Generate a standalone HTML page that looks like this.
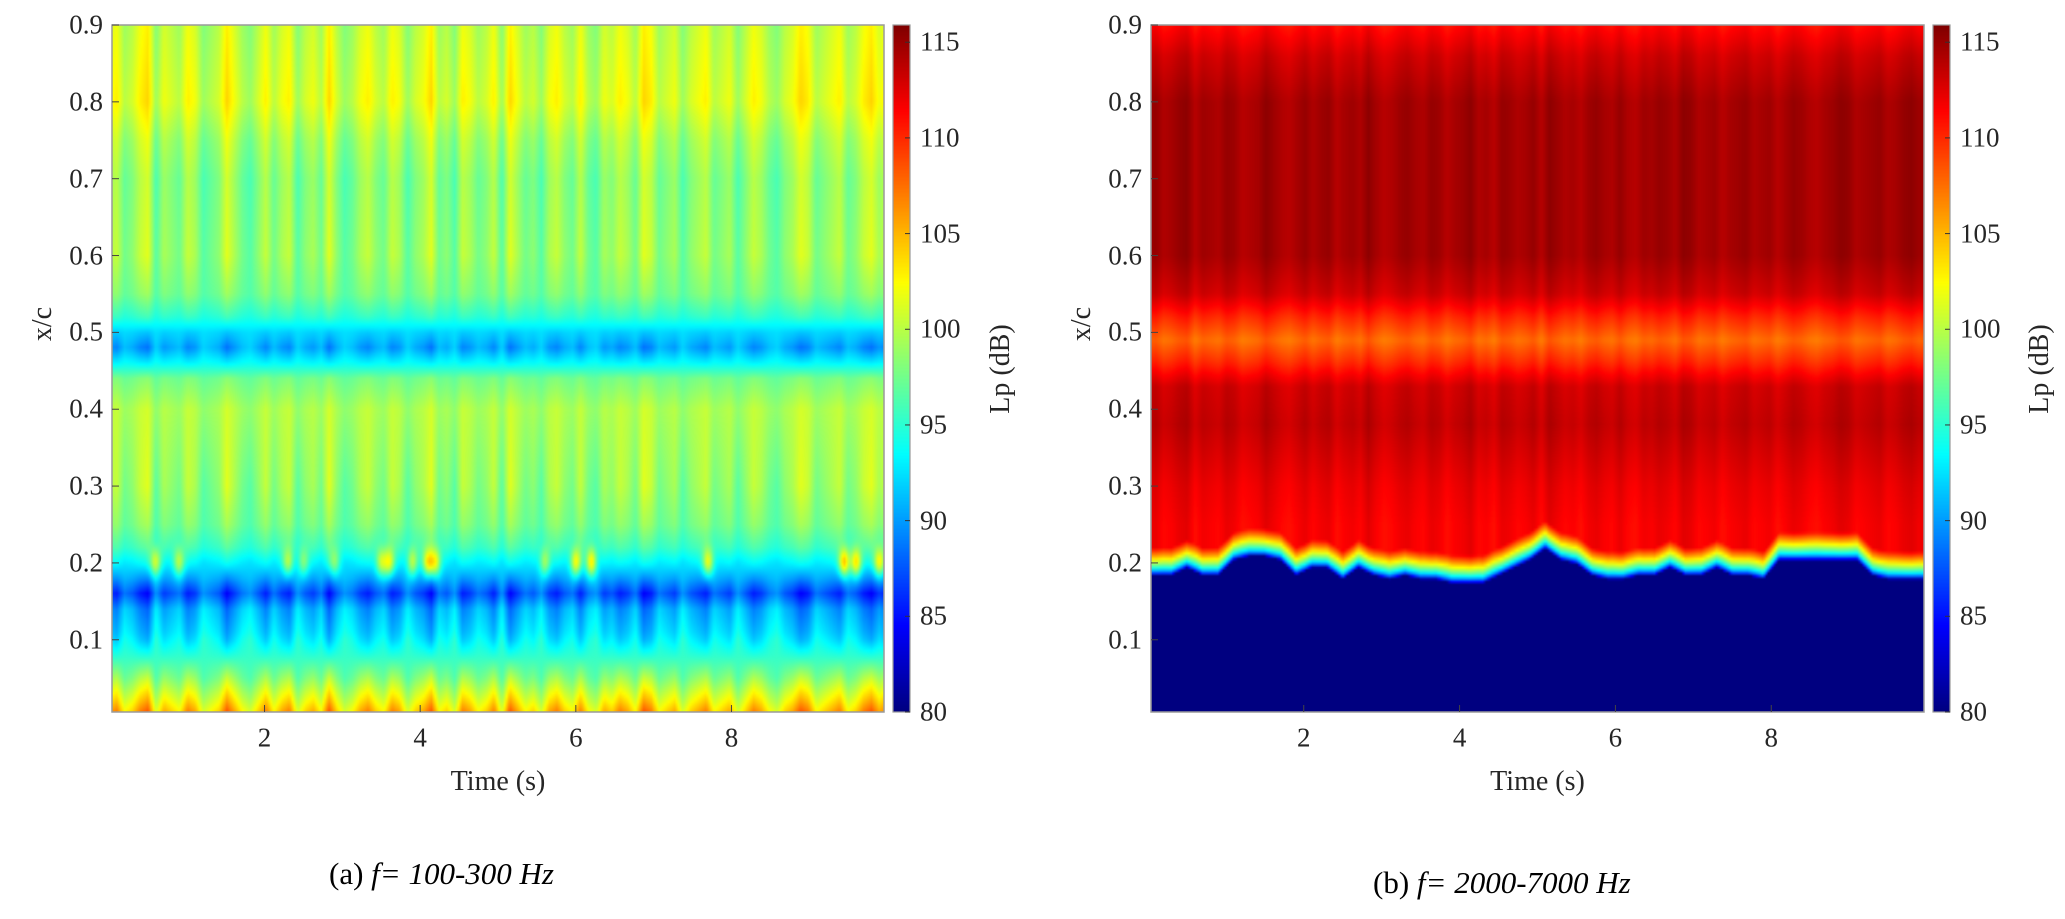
<!DOCTYPE html>
<html><head><meta charset="utf-8">
<style>
html,body{margin:0;padding:0;background:#fff;}
#root{position:relative;width:2065px;height:919px;overflow:hidden;font-family:"Liberation Serif",serif;color:#262626;}
canvas{position:absolute;}
.t{position:absolute;font-size:27px;line-height:1;white-space:nowrap;}
</style></head>
<body>
<div id="root">
<svg id="svg" width="2065" height="919" style="position:absolute;left:0;top:0"></svg>
</div>
<script>
// ---------- data ----------
// Panel (a): mean level profile along x/c
const aProfilePos = [0, 0.02, 0.05, 0.08, 0.11, 0.14, 0.16, 0.18, 0.2, 0.22, 0.25, 0.3, 0.35, 0.4, 0.44, 0.46, 0.48, 0.5, 0.52, 0.55, 0.6, 0.7, 0.75, 0.8, 0.85, 0.9];
const aProfileVal = [105, 102, 98, 95, 92.5, 91, 87.5, 90.5, 93, 95.5, 97.5, 98.5, 99, 99.5, 97.5, 93.5, 90.5, 92, 95, 97.5, 98.5, 98, 99, 101, 100.5, 100];
// Panel (a): how strongly each x/c responds to column fluctuation
const aGainPos = [0, 0.05, 0.1, 0.16, 0.2, 0.3, 0.44, 0.48, 0.52, 0.6, 0.9];
const aGainVal = [1.6, 0.9, -0.9, -1.1, 0.3, 1, 0.3, -0.7, 0.3, 1, 1];
// Panel (a): column fluctuation (dB) across time 0..10 s
const aFluct = [1,2,-1,0,2,3,-2,1,0,-1,2,1,-2,-1,0,3,1,-1,-2,0,2,-1,1,2,-2,0,1,-1,3,0,-2,-1,1,2,0,-1,2,1,-2,0,1,3,-1,0,-2,2,1,-1,0,2,-2,3,1,-1,0,-2,1,2,0,-1,2,-1,-2,1,0,2,1,-1,3,2,-1,0,1,-2,0,1,2,-1,0,1,-2,0,2,1,-1,-2,0,1,3,2,-1,0,1,2,-1,0,2,3,1,2];
// Panel (a): hot spots near x/c=0.2 (time s, extra dB)
const aHotTimes = [0.6, 0.9, 2.3, 2.5, 2.9, 3.5, 3.6, 3.9, 4.1, 4.2, 5.6, 6.0, 6.2, 7.7, 9.45, 9.6, 9.9];
const aHotAmp   = [8, 7, 6, 5, 5, 7, 8, 7, 9, 8, 6, 9, 10, 8, 11, 10, 9];
// Panel (b): level profile above the transition
const bProfilePos = [0, 0.25, 0.3, 0.38, 0.43, 0.46, 0.49, 0.52, 0.55, 0.6, 0.8, 0.86, 0.9];
const bProfileVal = [111.5, 111.5, 112, 113.5, 113, 110, 107.5, 110, 113, 114.5, 114.5, 113, 111];
// Panel (b): transition x/c vs time
const bBoundTimes = [0,0.3,0.5,0.7,0.9,1.1,1.3,1.5,1.7,1.9,2.1,2.3,2.5,2.7,2.9,3.1,3.3,3.5,3.7,3.9,4.1,4.3,4.5,4.7,4.9,5.1,5.3,5.5,5.7,5.9,6.1,6.3,6.5,6.7,6.9,7.1,7.3,7.5,7.7,7.9,8.1,8.3,8.5,8.7,8.9,9.1,9.3,9.5,9.7,10];
const bBoundVal = [0.19,0.19,0.2,0.19,0.19,0.21,0.215,0.215,0.21,0.19,0.2,0.2,0.185,0.2,0.19,0.185,0.19,0.185,0.185,0.18,0.18,0.18,0.19,0.2,0.21,0.225,0.21,0.205,0.19,0.185,0.185,0.19,0.19,0.2,0.19,0.19,0.2,0.19,0.19,0.185,0.21,0.21,0.21,0.21,0.21,0.21,0.19,0.185,0.185,0.185];
// ticks
const yTicks = [0.1,0.2,0.3,0.4,0.5,0.6,0.7,0.8,0.9];
const xTicks = [2,4,6,8];
const cTicks = [80,85,90,95,100,105,110,115];

// ---------- layout ----------
const XMIN=0.04, XMAX=9.96, YMIN=0.006, YMAX=0.9, CMIN=80, CMAX=115.9;
const panels=[
 {id:'a', L:112,R:884,T:25,B:712, cbL:893,cbR:910, cap:'(a) ', capI:'f= 100-300 Hz', capX:329, capY:883, ylX:43, lpX:1001},
 {id:'b', L:1151,R:1924,T:25,B:712, cbL:1933,cbR:1950, cap:'(b) ', capI:'f= 2000-7000 Hz', capX:1373, capY:892, ylX:1082, lpX:2040}
];
function jet(v){
  let t=(v-CMIN)/(CMAX-CMIN); t=Math.max(0,Math.min(1,t));
  const f=x=>Math.max(0,Math.min(1,x));
  return [f(1.5-Math.abs(4*t-3))*255, f(1.5-Math.abs(4*t-2))*255, f(1.5-Math.abs(4*t-1))*255];
}
function interp(xs,ys,x){
  if(x<=xs[0])return ys[0]; if(x>=xs[xs.length-1])return ys[ys.length-1];
  for(let i=1;i<xs.length;i++){ if(x<=xs[i]){const u=(x-xs[i-1])/(xs[i]-xs[i-1]);return ys[i-1]+u*(ys[i]-ys[i-1]);} }
}
function fluctAt(t){ const n=aFluct.length; const p=t/10*(n-1); const i=Math.floor(p); const u=p-i; return aFluct[Math.min(i,n-1)]*(1-u)+aFluct[Math.min(i+1,n-1)]*u; }
function valA(t,y){
  let v=interp(aProfilePos,aProfileVal,y);
  v+=fluctAt(t)*interp(aGainPos,aGainVal,y);
  for(let k=0;k<aHotTimes.length;k++){ const dt=(t-aHotTimes[k])/0.07, dy=(y-0.2)/0.018; v+=aHotAmp[k]*Math.exp(-dt*dt-dy*dy); }
  return v;
}
function valB(t,y){
  const b=interp(bBoundTimes,bBoundVal,t);
  const top=interp(bProfilePos,bProfileVal,y)+fluctAt(t)*0.3;
  const d=y-b;
  if(d< -0.006) return 80;
  if(d<0.03){ const u=(d+0.006)/0.036; return 80+(top-80)*Math.pow(u,0.6); }
  return top;
}
const NS='http://www.w3.org/2000/svg';
const svg=document.getElementById('svg');
const root=document.getElementById('root');
function line(x1,y1,x2,y2,c,w,name){const l=document.createElementNS(NS,'line');l.setAttribute('x1',x1);l.setAttribute('y1',y1);l.setAttribute('x2',x2);l.setAttribute('y2',y2);l.setAttribute('stroke',c);l.setAttribute('stroke-width',w);


svg.appendChild(l);}
function text(x,y,s,anchor,name,extra){const d=document.createElement('div');d.className='t';d.textContent=s;d.style.left=x+'px';d.style.top=y+'px';
d.style.transform=anchor;


if(extra)Object.assign(d.style,extra);root.appendChild(d);return d;}

panels.forEach(p=>{
  const W=p.R-p.L, H=p.B-p.T;
  const sx=t=>p.L+(t-XMIN)/(XMAX-XMIN)*W;
  const sy=v=>p.B-(v-YMIN)/(YMAX-YMIN)*H;
  const sc=v=>p.B-(v-CMIN)/(CMAX-CMIN)*H;
  const cols=400, rows=240;
  const off=document.createElement('canvas'); off.width=cols; off.height=rows;
  const oc=off.getContext('2d'); const img=oc.createImageData(cols,rows);
  for(let j=0;j<rows;j++){ const y=YMAX-(j+0.5)/rows*(YMAX-YMIN);
    for(let i=0;i<cols;i++){ const t=XMIN+(i+0.5)/cols*(XMAX-XMIN);
      const c=jet(p.id==='a'?valA(t,y):valB(t,y)); const k=(j*cols+i)*4;
      img.data[k]=c[0];img.data[k+1]=c[1];img.data[k+2]=c[2];img.data[k+3]=255; } }
  oc.putImageData(img,0,0);
  const cv=document.createElement('canvas'); cv.width=W; cv.height=H; cv.style.left=p.L+'px'; cv.style.top=p.T+'px';
  
  
  const cx=cv.getContext('2d'); cx.imageSmoothingEnabled=true; cx.drawImage(off,0,0,W,H);
  root.insertBefore(cv,svg);
  const cb=document.createElement('canvas'); cb.width=p.cbR-p.cbL; cb.height=H; cb.style.left=p.cbL+'px'; cb.style.top=p.T+'px';
  
  
  const cbx=cb.getContext('2d');
  for(let j=0;j<H;j++){const c=jet(CMAX-(j+0.5)/H*(CMAX-CMIN));cbx.fillStyle=`rgb(${c[0]|0},${c[1]|0},${c[2]|0})`;cbx.fillRect(0,j,cb.width,1);}
  root.insertBefore(cb,svg);
  const fr=document.createElementNS(NS,'rect');fr.setAttribute('x',p.L);fr.setAttribute('y',p.T);fr.setAttribute('width',W);fr.setAttribute('height',H);fr.setAttribute('fill','none');fr.setAttribute('stroke','#9a9a9a');fr.setAttribute('stroke-width','1.5');
  
  
  svg.appendChild(fr);
  const cf=document.createElementNS(NS,'rect');cf.setAttribute('x',p.cbL);cf.setAttribute('y',p.T);cf.setAttribute('width',p.cbR-p.cbL);cf.setAttribute('height',H);cf.setAttribute('fill','none');cf.setAttribute('stroke','#9a9a9a');cf.setAttribute('stroke-width','1.2');
  
  
  svg.appendChild(cf);
  yTicks.forEach(v=>{const y=sy(v);line(p.L,y,p.L+7,y,'#444',1,'y-tick');text(p.L-9,y,v.toFixed(1),'translate(-100%,-50%)','y-tick-label');});
  xTicks.forEach(v=>{const x=sx(v);line(x,p.B,x,p.B-7,'#444',1,'x-tick');text(x,738,String(v),'translate(-50%,-50%)','x-tick-label');});
  cTicks.forEach(v=>{const y=sc(v);line(p.cbR-5,y,p.cbR,y,'#333',1,'colorbar-tick');text(p.cbR+10,y,String(v),'translate(0,-50%)','colorbar-tick-label');});
  text((p.L+p.R)/2,782,'Time (s)','translate(-50%,-50%)','x-axis-title',{fontSize:'28px'});
  text(p.ylX,(p.T+p.B)/2-45,'x/c','translate(-50%,-50%) rotate(-90deg)','y-axis-title',{fontSize:'28px'});
  text(p.lpX,(p.T+p.B)/2,'Lp (dB)','translate(-50%,-50%) rotate(-90deg)','colorbar-title',{fontSize:'28px'});
  const c=text(p.capX,p.capY,'','translate(0,-80%)','caption-'+p.id,{fontSize:'31px',color:'#000'});
  c.innerHTML=p.cap+'<i>'+p.capI+'</i>';
});
</script>
</body></html>
